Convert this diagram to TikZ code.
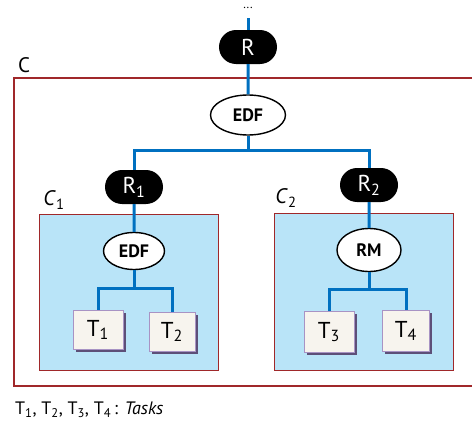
\documentclass[tikz,border=0pt]{standalone}
\usepackage{fontspec}
\setmainfont{PT Sans}
\usetikzlibrary{shapes.geometric,shapes.misc,shadows}

\definecolor{wireblue}{RGB}{0,112,192}
\definecolor{boxred}{RGB}{160,40,42}
\definecolor{clusterfill}{RGB}{185,228,248}
\definecolor{taskfill}{RGB}{247,244,238}
\definecolor{taskline}{RGB}{168,147,196}
\definecolor{taskshadow}{RGB}{93,79,120}

\begin{document}
\begin{tikzpicture}[x=1pt, y=-1pt,
        wire/.style={draw=wireblue, line width=3pt},
        resource/.style={rounded rectangle, fill=black, text=white, minimum width=58pt, minimum height=34pt, inner sep=0pt, font=\fontsize{23}{26}\selectfont},
        sched/.style={ellipse, draw, line width=1.4pt, fill=white, inner sep=0pt, font=\bfseries\fontsize{18}{20}\selectfont},
        task/.style={rectangle, draw=taskline, fill=taskfill, minimum width=50pt, minimum height=39pt, font=\fontsize{23}{26}\selectfont,
            drop shadow={shadow xshift=2.5pt, shadow yshift=-2.5pt, fill=taskshadow, opacity=1}},
        cluster/.style={draw=boxred, line width=1pt, fill=clusterfill},
        label/.style={inner sep=0pt, font=\fontsize{21}{24}\selectfont}
    ]
        \useasboundingbox (0,0) rectangle (472,423);

        % Outer component
        \draw[boxred, line width=2pt] (472,78) -- (14,78) -- (14,386) -- (472,386);
        \node[label] (cname) at (24,65) {C};

        % Subcomponents
        \draw[cluster] (39,214) rectangle (218,370);
        \draw[cluster] (274,213) rectangle (453,370);
        \node[label] (c1name) at (54,200) {\textit{C}\textsubscript{1}};
        \node[label] (c2name) at (286,198) {\textit{C}\textsubscript{2}};

        % Resources and schedulers
        \node[anchor=base, inner sep=0pt, font=\fontsize{12}{12}\selectfont] (dots) at (248,9) {...};
        \coordinate (feed) at (248,18);
        \node[resource] (r) at (248,47) {R};
        \node[sched, minimum width=75pt, minimum height=40pt] (edf) at (248,115) {EDF};
        \node[resource] (r1) at (134,187) {R\textsubscript{1}};
        \node[resource] (r2) at (369,185) {R\textsubscript{2}};
        \node[sched, minimum width=61pt, minimum height=37pt] (edf1) at (134,251) {EDF};
        \node[sched, minimum width=64pt, minimum height=43pt] (rm) at (369,250) {RM};

        % Tasks
        \node[task] (t1) at (98,330) {T\textsubscript{1}};
        \node[task, minimum width=46pt] (t2) at (172,332) {T\textsubscript{2}};
        \node[task, minimum height=41pt] (t3) at (329,332) {T\textsubscript{3}};
        \node[task, minimum width=47pt, minimum height=41pt] (t4) at (406,331) {T\textsubscript{4}};

        \coordinate (split) at (248,150);
        \coordinate (split1) at (134,288);
        \coordinate (split2) at (369,289);

        \draw[wire] (feed) -- (r);
        \draw[wire] (r) -- (edf);
        \draw[wire] (edf) -- (split) -| (r1);
        \draw[wire] (split) -| (r2);
        \draw[wire] (r1) -- (edf1);
        \draw[wire] (r2) -- (rm);
        \draw[wire] (edf1) -- (split1) -| (t1);
        \draw[wire] (split1) -| (t2);
        \draw[wire] (rm) -- (split2) -| (t3);
        \draw[wire] (split2) -| (t4);

        % Legend
        \node[anchor=west, inner sep=0pt, font=\fontsize{18}{20}\selectfont] (legend) at (15,410)
            {T\textsubscript{1}, T\textsubscript{2}, T\textsubscript{3}, T\textsubscript{4}\,: \textit{Tasks}};
    \end{tikzpicture}
\end{document}
